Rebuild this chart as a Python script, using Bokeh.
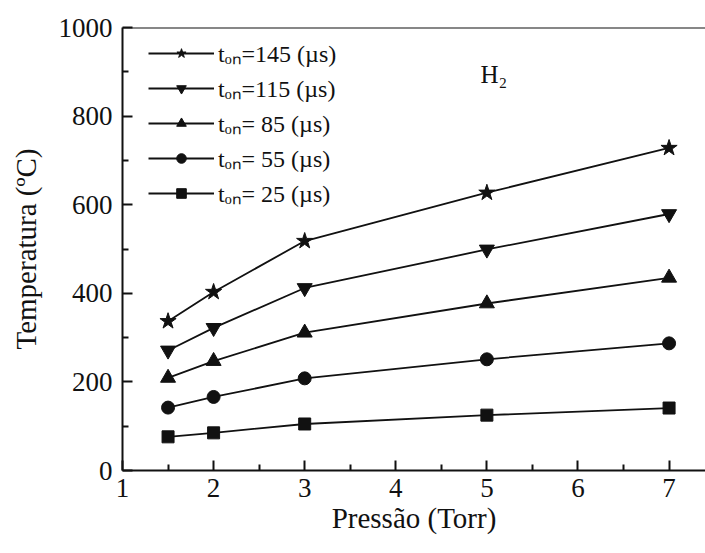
from bokeh.plotting import figure
from bokeh.models import Legend, LegendItem, Span, Label, Range1d, FixedTicker
from bokeh.embed import file_html
from bokeh.resources import INLINE

pressure = [1.5, 2, 3, 5, 7]
t145 = [337, 403, 518, 627, 728]
t115 = [271, 322, 412, 499, 579]
t85 = [209, 247, 311, 377, 435]
t55 = [142, 166, 208, 251, 287]
t25 = [76, 85, 105, 125, 141]
series_labels = ["tₒₙ=145 (µs)", "tₒₙ=115 (µs)", "tₒₙ= 85 (µs)", "tₒₙ= 55 (µs)", "tₒₙ= 25 (µs)"]
x_ticks = [1, 2, 3, 4, 5, 6, 7]
y_ticks = [0, 200, 400, 600, 800, 1000]

FONT = "Liberation Serif"
INK = "#111111"

p = figure(width=705, height=553, output_backend="svg", toolbar_location=None,
           x_range=Range1d(1, 7.4), y_range=Range1d(0, 1000),
           min_border_left=122, min_border_right=0, min_border_top=27, min_border_bottom=83)
p.background_fill_color = "white"
p.border_fill_color = "white"
p.outline_line_color = None
p.grid.visible = False

series = [t145, t115, t85, t55, t25]
markers = ["star", "inverted_triangle", "triangle", "circle", "square"]
sizes = [17, 15, 15, 13, 12]
items = []
for vals, mk, sz, lab in zip(series, markers, sizes, series_labels):
    r1 = p.line(pressure, vals, line_color=INK, line_width=1.8)
    r2 = p.scatter(pressure, vals, marker=mk, size=sz, fill_color=INK, line_color=INK)
    items.append(LegendItem(label=lab, renderers=[r1, r2]))

legend = Legend(items=items, location=(26, 261), glyph_width=66, glyph_height=24,
                label_height=24, spacing=2, padding=0, margin=0, label_standoff=4,
                label_text_font=FONT, label_text_font_size="24px", label_text_color=INK,
                border_line_color=None, background_fill_alpha=0)
p.add_layout(legend)

p.add_layout(Span(location=1000, dimension="width", line_color=INK, line_width=2))

p.add_layout(Label(x=4.93, y=893, text="H₂", text_font=FONT, text_font_size="25px",
                   text_color=INK, text_baseline="alphabetic"))

for ax in (p.xaxis[0], p.yaxis[0]):
    ax.axis_line_color = INK
    ax.axis_line_width = 2
    ax.major_tick_line_color = INK
    ax.major_tick_line_width = 2
    ax.minor_tick_line_color = INK
    ax.minor_tick_line_width = 2
    ax.major_tick_in = 10
    ax.major_tick_out = 0
    ax.minor_tick_in = 6
    ax.minor_tick_out = 0
    ax.major_label_text_font = FONT
    ax.major_label_text_font_size = "27px"
    ax.major_label_text_color = INK
    ax.axis_label_text_font = FONT
    ax.axis_label_text_font_size = "29px"
    ax.axis_label_text_font_style = "normal"
    ax.axis_label_text_color = INK

p.xaxis.ticker = FixedTicker(ticks=x_ticks, minor_ticks=[1.5, 2.5, 3.5, 4.5, 5.5, 6.5])
p.yaxis.ticker = FixedTicker(ticks=y_ticks, minor_ticks=[100, 300, 500, 700, 900])
p.xaxis.major_label_standoff = 8
p.yaxis.major_label_standoff = 10
p.xaxis.axis_label = "Pressão (Torr)"
p.yaxis.axis_label = "Temperatura (ºC)"
p.xaxis.axis_label_standoff = 2
p.yaxis.axis_label_standoff = 14

open("out.html", "w").write(file_html(p, INLINE))
